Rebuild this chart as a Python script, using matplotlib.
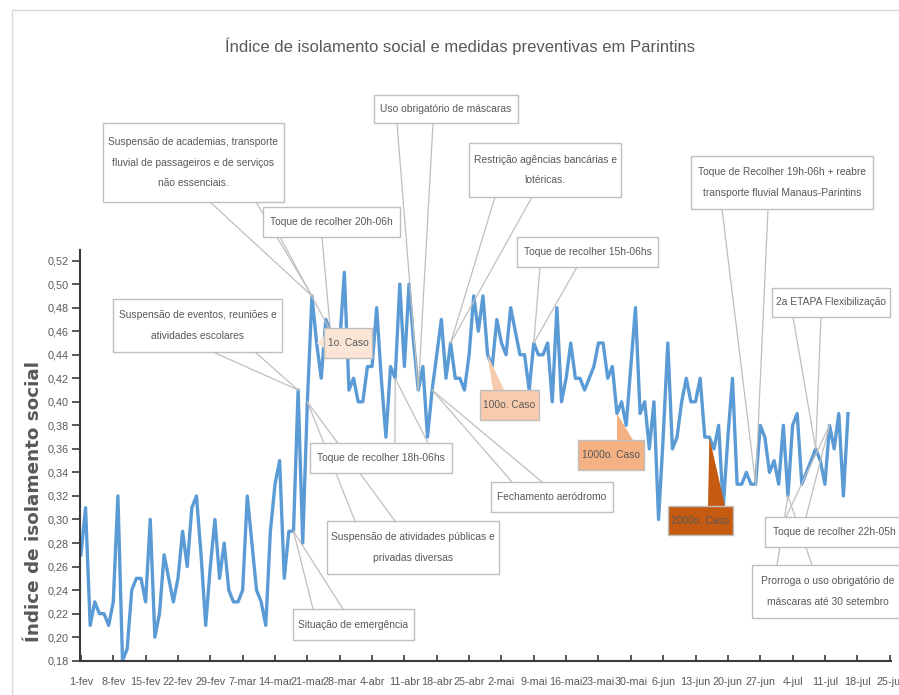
import matplotlib
matplotlib.use('Agg')
import numpy as np
import matplotlib.pyplot as plt
import matplotlib.font_manager as fm
from matplotlib.patches import Rectangle, Polygon
from matplotlib.lines import Line2D

# indice diario de isolamento, 1-fev a 16-jul
isolamento = [0.27, 0.31, 0.21, 0.23, 0.22, 0.22, 0.21, 0.23, 0.32, 0.18,
              0.19, 0.24, 0.25, 0.25, 0.23, 0.30, 0.20, 0.22, 0.27, 0.25,
              0.23, 0.25, 0.29, 0.26, 0.31, 0.32, 0.27, 0.21, 0.26, 0.30,
              0.25, 0.28, 0.24, 0.23, 0.23, 0.24, 0.32, 0.28, 0.24, 0.23,
              0.21, 0.29, 0.33, 0.35, 0.25, 0.29, 0.29, 0.41, 0.28, 0.40,
              0.49, 0.45, 0.42, 0.47, 0.46, 0.44, 0.45, 0.51, 0.41, 0.42,
              0.40, 0.40, 0.43, 0.43, 0.48, 0.42, 0.37, 0.43, 0.42, 0.50,
              0.43, 0.50, 0.45, 0.41, 0.43, 0.37, 0.41, 0.44, 0.47, 0.42,
              0.45, 0.42, 0.42, 0.41, 0.44, 0.49, 0.46, 0.49, 0.44, 0.43,
              0.47, 0.45, 0.44, 0.48, 0.46, 0.44, 0.44, 0.41, 0.45, 0.44,
              0.44, 0.45, 0.40, 0.48, 0.40, 0.42, 0.45, 0.42, 0.42, 0.41,
              0.42, 0.43, 0.45, 0.45, 0.42, 0.43, 0.39, 0.40, 0.38, 0.43,
              0.48, 0.39, 0.40, 0.36, 0.40, 0.30, 0.37, 0.45, 0.36, 0.37,
              0.40, 0.42, 0.40, 0.40, 0.42, 0.37, 0.37, 0.36, 0.38, 0.31,
              0.37, 0.42, 0.33, 0.33, 0.34, 0.33, 0.33, 0.38, 0.37, 0.34,
              0.35, 0.33, 0.38, 0.32, 0.38, 0.39, 0.33, 0.34, 0.35, 0.36,
              0.35, 0.33, 0.38, 0.36, 0.39, 0.32, 0.39]
dias = list(range(len(isolamento)))

rotulos_x = ['1-fev', '8-fev', '15-fev', '22-fev', '29-fev', '7-mar', '14-mar',
             '21-mar', '28-mar', '4-abr', '11-abr', '18-abr', '25-abr', '2-mai',
             '9-mai', '16-mai', '23-mai', '30-mai', '6-jun', '13-jun', '20-jun',
             '27-jun', '4-jul', '11-jul', '18-jul', '25-jul']
pos_x = [7 * k for k in range(len(rotulos_x))]
niveis_y = np.arange(0.18, 0.5201, 0.02)

W, H = 899, 695
CINZA = '#595959'

nomes = {f.name for f in fm.fontManager.ttflist}
if 'Liberation Sans Narrow' in nomes:
    fonte, esc = 'Liberation Sans Narrow', 1.0
else:
    fonte, esc = 'Liberation Sans', 0.82
plt.rcParams['font.family'] = [fonte, 'DejaVu Sans']

fig = plt.figure(figsize=(W / 100, H / 100), dpi=100)
ax = fig.add_axes([80 / W, 1 - 660.7 / H, (891 - 80) / W, (660.7 - 250) / H])

ax.plot(dias, isolamento, color='#5B9BD5', lw=2.4)

ax.set_xlim(-0.2, 175.3)
ax.set_ylim(0.18, 0.529)
ax.set_xticks(pos_x)
ax.set_xticklabels(rotulos_x, fontsize=9.4 * esc, color=CINZA)
ax.set_yticks(niveis_y)
ax.set_yticklabels([f'{v:.2f}'.replace('.', ',') for v in niveis_y],
                   fontsize=9.6 * esc, color=CINZA)
ax.tick_params(axis='x', direction='in', length=4, width=1.2, color='#3b3b3b', pad=12)
ax.tick_params(axis='y', direction='out', length=6, width=1.2, color='#3b3b3b', pad=2)
for s in ['top', 'right']:
    ax.spines[s].set_visible(False)
for s in ['left', 'bottom']:
    ax.spines[s].set_color('#3b3b3b')
    ax.spines[s].set_linewidth(1.5)

# moldura da area do grafico
fig.add_artist(Rectangle((12 / W, -0.02), 1, 1 - 10 / H + 0.02, transform=fig.transFigure,
                         fc='none', ec='#D9D9D9', lw=1, zorder=1))

fig.text(460 / W, 1 - 46 / H, 'Índice de isolamento social e medidas preventivas em Parintins',
         ha='center', va='center', fontsize=14.6 * esc, color=CINZA)
fig.text(34 / W, 1 - 502 / H, 'Índice de isolamento social', rotation=90,
         ha='center', va='center', fontsize=13.2, fontweight='bold',
         color=CINZA, family='DejaVu Sans')


def px(x, y):
    return (x / W, 1 - y / H)


def balao(texto, caixa, base, i, cor='white', cor_txt=CINZA):
    x0, y0, x1, y1 = caixa
    ponta = fig.transFigure.inverted().transform(
        ax.transData.transform((dias[i], isolamento[i])))
    b0, b1 = px(*base[0]), px(*base[1])
    if cor == 'white':
        for b in (b0, b1):
            fig.add_artist(Line2D([b[0], ponta[0]], [b[1], ponta[1]],
                                  transform=fig.transFigure, color='#BFBFBF', lw=0.9, zorder=3))
    else:
        fig.add_artist(Polygon([b0, tuple(ponta), b1], closed=True, transform=fig.transFigure,
                               fc=cor, ec='none', zorder=3))
    fig.add_artist(Rectangle(px(x0, y1), (x1 - x0) / W, (y1 - y0) / H,
                             transform=fig.transFigure, fc=cor, ec='#BFBFBF', lw=1, zorder=4))
    fig.text((x0 + x1) / 2 / W, 1 - (y0 + y1) / 2 / H, texto, ha='center', va='center',
             fontsize=9 * esc, color=cor_txt, linespacing=2.3, zorder=5)


balao('Suspensão de academias, transporte\nfluvial de passageiros e de serviços\nnão essenciais.',
      (103, 123, 284, 202), [(210, 202), (256, 202)], 50)
balao('Toque de recolher 20h-06h', (263, 207, 400, 237), [(280, 237), (322, 237)], 54)
balao('Suspensão de eventos, reuniões e\natividades escolares',
      (113, 299, 282, 352), [(213, 352), (255, 352)], 47)
balao('Uso obrigatório de máscaras', (374, 95, 518, 123), [(397, 123), (433, 123)], 73)
balao('Restrição agências bancárias e\nlotéricas.', (469, 143, 621, 197),
      [(495, 197), (532, 197)], 80)
balao('Toque de recolher 15h-06hs', (517, 237, 658, 267), [(540, 267), (577, 267)], 98)
balao('Toque de Recolher 19h-06h + reabre\ntransporte fluvial Manaus-Parintins',
      (691, 156, 873, 209), [(722, 209), (768, 209)], 146)
balao('2a ETAPA Flexibilização', (772, 288, 890, 317), [(793, 317), (821, 317)], 159)
balao('Suspensão de atividades públicas e\nprivadas diversas', (327, 521, 499, 574),
      [(355, 521), (395, 521)], 49)
balao('Toque de recolher 18h-06hs', (310, 443, 452, 473), [(395, 443), (428, 443)], 68)
balao('Situação de emergência', (293, 609, 414, 640), [(313, 609), (343, 609)], 46)
balao('Fechamento aeródromo', (491, 482, 613, 512), [(512, 482), (542, 482)], 76)
balao('Prorroga o uso obrigatório de\nmáscaras até 30 setembro', (752, 565, 903, 618),
      [(777, 565), (812, 565)], 153)
balao('Toque de recolher 22h-05h', (765, 517, 903, 547), [(786, 517), (806, 517)], 162)

balao('1o. Caso', (324, 328, 372, 358), [(324, 336), (324, 348)], 51, cor='#FBE5D6')
balao('100o. Caso', (480, 390, 539, 420), [(493, 390), (504, 390)], 88, cor='#F8CBAD')
balao('1000o. Caso', (578, 440, 644, 470), [(617, 440), (633, 440)], 116, cor='#F4B183')
balao('2000o. Caso', (668, 506, 733, 535), [(708, 506), (725, 506)], 136, cor='#C55A11')

fig.savefig('out.png', dpi=100)
